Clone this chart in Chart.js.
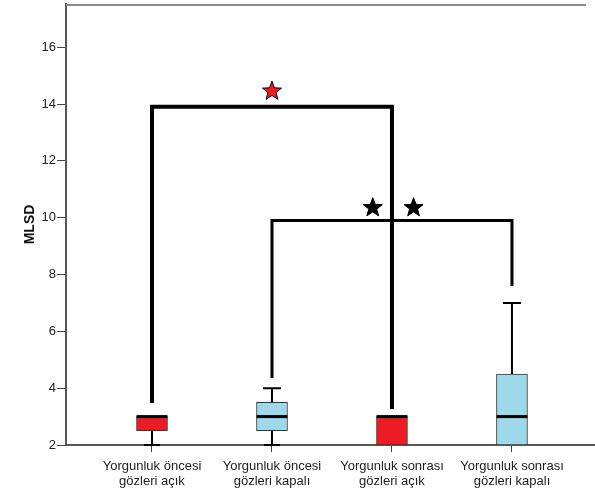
<!DOCTYPE html>
<html>
<head>
<meta charset="utf-8">
<script src="https://cdn.jsdelivr.net/npm/chart.js@4/dist/chart.umd.min.js"></script>
<style>
  html, body { margin: 0; padding: 0; background: #fff; }
  #wrap { width: 595px; height: 492px; }
</style>
</head>
<body>
<div id="wrap"><canvas id="c" width="595" height="492"></canvas></div>
<script>
// Groups on the x axis (two-line labels)
const categories = [
  ["Yorgunluk öncesi", "gözleri açık"],
  ["Yorgunluk öncesi", "gözleri kapalı"],
  ["Yorgunluk sonrası", "gözleri açık"],
  ["Yorgunluk sonrası", "gözleri kapalı"]
];
const positions = [1, 2, 3, 4];

// Box plot statistics for MLSD
const lowerWhisker = [2, 2, 2, 2];
const q1 = [2.5, 2.5, 2, 2];
const median = [3, 3, 3, 3];
const q3 = [3, 3.5, 3, 4.5];
const upperWhisker = [3, 4, 3, 7];
const boxColors = ["#ED1C24", "#9DD9EA", "#ED1C24", "#9DD9EA"];

// y axis ticks
const yTicks = [2, 4, 6, 8, 10, 12, 14, 16];

// Significance brackets: from group, to group, bar height, leg ends
const bracketFrom = [1, 2];
const bracketTo = [3, 4];
const bracketTop = [13.9, 9.9];
const bracketLeftEnd = [3.48, 4.36];
const bracketRightEnd = [3.27, 7.6];

// Significance stars
const starX = [2.0, 2.84, 3.18];
const starY = [14.45, 10.35, 10.35];
const starColors = ["#ED1C24", "#000000", "#000000"];

const FONT = "'Liberation Sans', Arial, sans-serif";

function drawStar(ctx, cx, cy, rOut, rIn, fill) {
  ctx.beginPath();
  for (let i = 0; i < 10; i++) {
    const r = i % 2 === 0 ? rOut : rIn;
    const a = -Math.PI / 2 + i * Math.PI / 5;
    const px = cx + r * Math.cos(a), py = cy + r * Math.sin(a);
    if (i === 0) ctx.moveTo(px, py); else ctx.lineTo(px, py);
  }
  ctx.closePath();
  ctx.fillStyle = fill;
  ctx.fill();
  ctx.lineWidth = 1;
  ctx.strokeStyle = "#000";
  ctx.stroke();
}

const boxExtras = {
  id: "boxExtras",
  beforeDatasetsDraw(chart) {
    const { ctx, chartArea } = chart;
    // top frame line
    ctx.save();
    ctx.strokeStyle = "#8a8a8a";
    ctx.lineWidth = 2;
    ctx.beginPath();
    ctx.moveTo(chartArea.left, chartArea.top + 1);
    ctx.lineTo(chartArea.right - 9, chartArea.top + 1);
    ctx.stroke();
    ctx.restore();
  },
  afterDatasetsDraw(chart) {
    const { ctx } = chart;
    const xs = chart.scales.x, ys = chart.scales.y;
    ctx.save();
    ctx.lineCap = "butt";
    positions.forEach((p, i) => {
      const x = xs.getPixelForValue(p);
      ctx.strokeStyle = "#000";
      ctx.lineWidth = 2;
      // upper whisker
      if (upperWhisker[i] > q3[i]) {
        const yt = ys.getPixelForValue(upperWhisker[i]);
        ctx.beginPath();
        ctx.moveTo(x, ys.getPixelForValue(q3[i]));
        ctx.lineTo(x, yt);
        ctx.moveTo(x - 9, yt);
        ctx.lineTo(x + 9, yt);
        ctx.stroke();
      }
      // lower whisker
      if (lowerWhisker[i] < q1[i]) {
        const yb = ys.getPixelForValue(lowerWhisker[i]);
        ctx.beginPath();
        ctx.moveTo(x, ys.getPixelForValue(q1[i]));
        ctx.lineTo(x, yb);
        ctx.moveTo(x - 8, yb);
        ctx.lineTo(x + 8, yb);
        ctx.stroke();
      }
      // median
      const ym = ys.getPixelForValue(median[i]);
      ctx.lineWidth = 3;
      ctx.beginPath();
      ctx.moveTo(x - 15.5, ym);
      ctx.lineTo(x + 15.5, ym);
      ctx.stroke();
    });

    // brackets
    ctx.lineJoin = "miter";
    ctx.strokeStyle = "#000";
    bracketFrom.forEach((f, i) => {
      const x1 = xs.getPixelForValue(f), x2 = xs.getPixelForValue(bracketTo[i]);
      const yt = ys.getPixelForValue(bracketTop[i]);
      ctx.lineWidth = i === 0 ? 4 : 3;
      ctx.beginPath();
      ctx.moveTo(x1, ys.getPixelForValue(bracketLeftEnd[i]));
      ctx.lineTo(x1, yt);
      ctx.lineTo(x2, yt);
      ctx.lineTo(x2, ys.getPixelForValue(bracketRightEnd[i]));
      ctx.stroke();
    });

    // stars
    starX.forEach((sx, i) => {
      drawStar(ctx, xs.getPixelForValue(sx), ys.getPixelForValue(starY[i]), 10, 4.2, starColors[i]);
    });
    ctx.restore();
  }
};

new Chart(document.getElementById("c"), {
  type: "bar",
  data: {
    datasets: [{
      data: positions.map((p, i) => ({ x: p, y: [q1[i], q3[i]] })),
      backgroundColor: boxColors,
      borderColor: "#3a3a2a",
      borderWidth: 1,
      borderSkipped: false,
      barThickness: 31
    }]
  },
  options: {
    responsive: false,
    animation: false,
    devicePixelRatio: 1,
    layout: { padding: { top: 4, right: 0, left: 0, bottom: 0 } },
    plugins: { legend: { display: false }, tooltip: { enabled: false } },
    scales: {
      x: {
        type: "linear",
        offset: false,
        min: 0.2833,
        max: 4.692,
        afterBuildTicks(scale) { scale.ticks = positions.map(v => ({ value: v })); },
        afterFit(scale) { scale.height = 47; scale.paddingLeft = 0; scale.paddingRight = 0; },
        ticks: {
          autoSkip: false,
          maxRotation: 0,
          padding: 7,
          color: "#222",
          font: { family: FONT, size: 13, lineHeight: 1.15 },
          callback: (v) => categories[positions.indexOf(v)]
        },
        grid: { offset: false, drawOnChartArea: false, tickLength: 7, color: "#444", lineWidth: 1 },
        border: { color: "#555", width: 2 }
      },
      y: {
        min: 2,
        max: 17.52,
        afterBuildTicks(scale) { scale.ticks = yTicks.map(v => ({ value: v })); },
        afterFit(scale) { scale.width = 66; scale.paddingTop = 0; scale.paddingBottom = 0; },
        ticks: {
          padding: 1,
          color: "#222",
          font: { family: FONT, size: 13 }
        },
        grid: { drawOnChartArea: false, tickLength: 9, color: "#444", lineWidth: 1 },
        border: { color: "#555", width: 2 },
        title: {
          display: true,
          text: "MLSD",
          color: "#111",
          font: { family: FONT, size: 14, weight: "bold" },
          padding: { top: 22, bottom: 0 }
        }
      }
    }
  },
  plugins: [boxExtras]
});
</script>
</body>
</html>
